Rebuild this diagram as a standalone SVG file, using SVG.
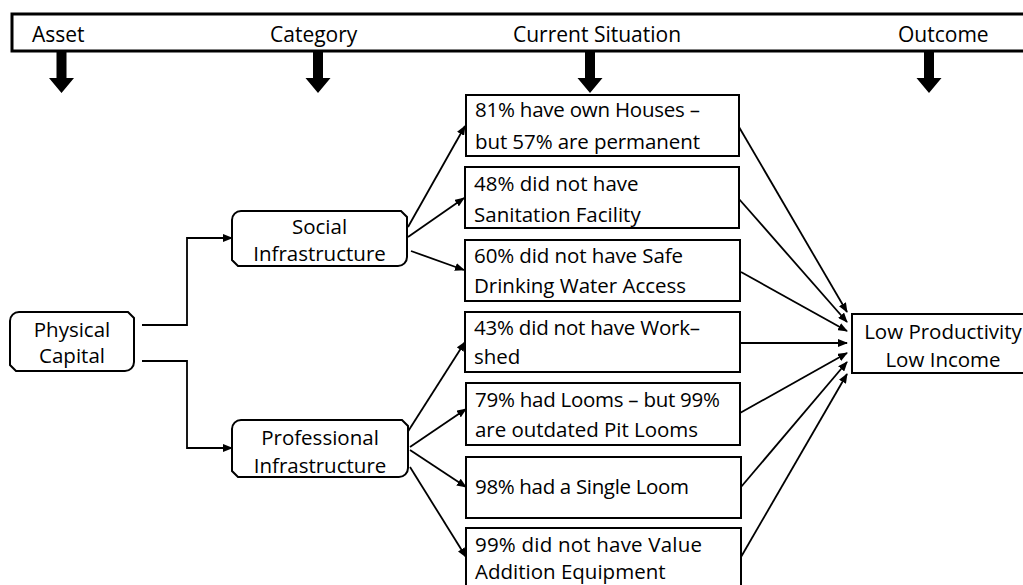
<svg xmlns="http://www.w3.org/2000/svg" width="1023" height="585" viewBox="0 0 1023 585">
<style>
  text { font-family: "Open Sans", "Liberation Sans", sans-serif; fill: #000; }
  .hdr { font-size: 21px; }
  .t { font-size: 20.5px; }
  .mid { text-anchor: middle; }
  .box { fill: #fff; stroke: #000; stroke-width: 2; }
  .con { fill: none; stroke: #000; stroke-width: 1.8; marker-end: url(#ah); }
  .blk { fill: #000; }
</style>
<defs>
  <marker id="ah" markerUnits="userSpaceOnUse" markerWidth="10" markerHeight="8" refX="9" refY="4" orient="auto">
    <path d="M0,0 L10,4 L0,8 Z" fill="#000"/>
  </marker>
</defs>
<rect width="1023" height="585" fill="#fff"/>

<g id="header">
  <rect x="12" y="14" width="1020" height="37" fill="#fff" stroke="#000" stroke-width="3"/>
  <text class="hdr" x="32" y="42">Asset</text>
  <text class="hdr" x="270" y="42">Category</text>
  <text class="hdr" x="513" y="42">Current Situation</text>
  <text class="hdr" x="898" y="42">Outcome</text>
  <polygon class="blk" points="56.5,52 66.5,52 66.5,78 74,78 61.5,93 49,78 56.5,78"/>
  <polygon class="blk" points="313,52 323,52 323,78 330.5,78 318,93 305.5,78 313,78"/>
  <polygon class="blk" points="585,52 595,52 595,78 602.5,78 590,93 577.5,78 585,78"/>
  <polygon class="blk" points="924,52 934,52 934,78 941.5,78 929,93 916.5,78 924,78"/>
</g>

<g id="connectors">
  <path class="con" d="M142,325 H187 V238 H232"/>
  <path class="con" d="M142,361 H187 V448 H232"/>
  <line class="con" x1="408" y1="227" x2="465" y2="126"/>
  <line class="con" x1="408" y1="237" x2="464" y2="198"/>
  <line class="con" x1="411" y1="251" x2="464" y2="270"/>
  <line class="con" x1="407" y1="433" x2="465" y2="342"/>
  <line class="con" x1="410" y1="447" x2="466" y2="409"/>
  <line class="con" x1="410" y1="450" x2="466" y2="487"/>
  <line class="con" x1="410" y1="467" x2="466" y2="557"/>
  <line class="con" x1="739" y1="127" x2="847" y2="312"/>
  <line class="con" x1="739" y1="199" x2="847" y2="322"/>
  <line class="con" x1="741" y1="272" x2="847" y2="331"/>
  <line class="con" x1="741" y1="343" x2="847" y2="343"/>
  <line class="con" x1="740" y1="413" x2="847" y2="353"/>
  <line class="con" x1="741" y1="487" x2="847" y2="362"/>
  <line class="con" x1="741" y1="557" x2="847" y2="374"/>
</g>

<g id="physical-capital">
  <path class="box" d="M19,312 H128 L134,318 V362 A9,9 0 0 1 125,371 H16 L10,365 V321 A9,9 0 0 1 19,312 Z"/>
  <text class="t mid" x="72" y="337">Physical</text>
  <text class="t mid" x="72" y="363">Capital</text>
</g>

<g id="social-infrastructure">
  <path class="box" d="M241,211 H401 L407,217 V257 A9,9 0 0 1 398,266 H238 L232,260 V220 A9,9 0 0 1 241,211 Z"/>
  <text class="t mid" x="319.5" y="234">Social</text>
  <text class="t mid" x="319.5" y="261">Infrastructure</text>
</g>

<g id="professional-infrastructure">
  <path class="box" d="M241,420 H402 L408,426 V468 A9,9 0 0 1 399,477 H238 L232,471 V429 A9,9 0 0 1 241,420 Z"/>
  <text class="t mid" x="320" y="445">Professional</text>
  <text class="t mid" x="320" y="473">Infrastructure</text>
</g>

<g id="houses">
  <rect class="box" x="466" y="95" width="273" height="61"/>
  <text class="t" x="475" y="117" textLength="225" lengthAdjust="spacing">81% have own Houses –</text>
  <text class="t" x="475" y="149" textLength="225" lengthAdjust="spacing">but 57% are permanent</text>
</g>

<g id="sanitation">
  <rect class="box" x="465" y="167" width="274" height="61"/>
  <text class="t" x="474" y="191">48% did not have</text>
  <text class="t" x="474" y="222">Sanitation Facility</text>
</g>

<g id="water">
  <rect class="box" x="465" y="240" width="275" height="61"/>
  <text class="t" x="474" y="263" textLength="209" lengthAdjust="spacing">60% did not have Safe</text>
  <text class="t" x="474" y="293" textLength="212" lengthAdjust="spacing">Drinking Water Access</text>
</g>

<g id="workshed">
  <rect class="box" x="465" y="312" width="275" height="60"/>
  <text class="t" x="474" y="335" textLength="226" lengthAdjust="spacing">43% did not have Work–</text>
  <text class="t" x="474" y="364">shed</text>
</g>

<g id="looms">
  <rect class="box" x="466" y="383" width="274" height="62"/>
  <text class="t" x="475" y="407" textLength="245" lengthAdjust="spacing">79% had Looms  – but 99%</text>
  <text class="t" x="475" y="437" textLength="223" lengthAdjust="spacing">are outdated Pit Looms</text>
</g>

<g id="single-loom">
  <rect class="box" x="466" y="457" width="275" height="61"/>
  <text class="t" x="475" y="494" textLength="214" lengthAdjust="spacing">98% had a Single Loom</text>
</g>

<g id="value-addition">
  <rect class="box" x="466" y="528" width="275" height="70"/>
  <text class="t" x="475" y="552" textLength="227" lengthAdjust="spacing">99% did not have Value</text>
  <text class="t" x="475" y="579">Addition Equipment</text>
</g>

<g id="outcome">
  <rect class="box" x="852" y="314" width="180" height="59"/>
  <text class="t mid" x="943" y="339">Low Productivity</text>
  <text class="t mid" x="943" y="367">Low Income</text>
</g>
</svg>
